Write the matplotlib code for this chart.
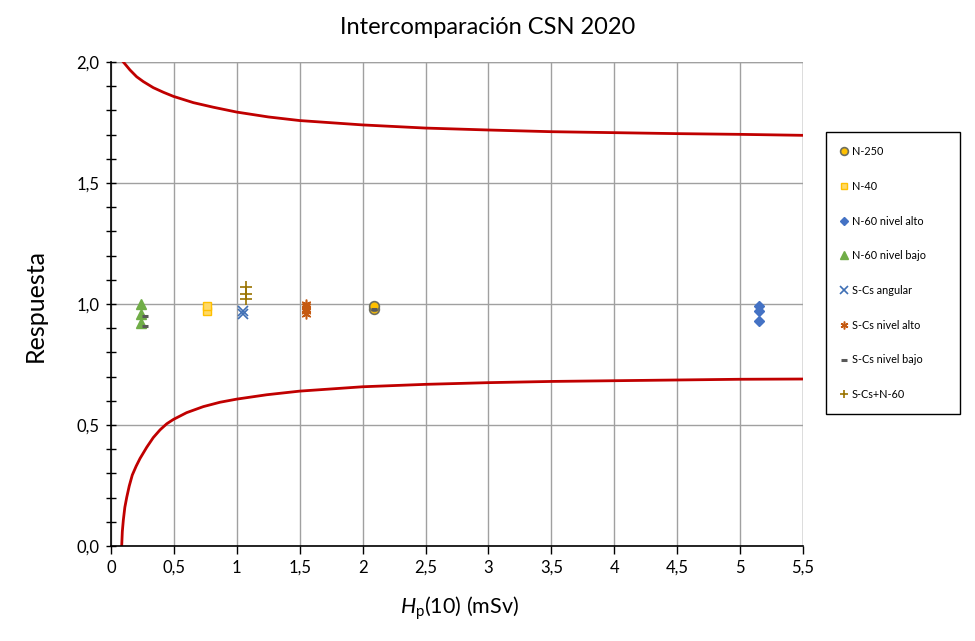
import matplotlib
matplotlib.use("Agg")
import matplotlib.pyplot as plt
from matplotlib.ticker import MultipleLocator

plt.rcParams['font.family'] = ['Lato', 'DejaVu Sans']
plt.rcParams['mathtext.fontset'] = 'custom'
plt.rcParams['mathtext.rm'] = 'Lato'
plt.rcParams['mathtext.it'] = 'Lato:italic'

# Upper and lower limit curves
upper_x = [0.098, 0.151, 0.204, 0.257, 0.336, 0.416, 0.496, 0.655, 0.814, 1.0, 1.25, 1.5, 2.0, 2.5, 3.0, 3.5, 4.0, 4.5, 5.0, 5.5]
upper_y = [2.000, 1.967, 1.939, 1.919, 1.894, 1.875, 1.858, 1.832, 1.813, 1.793, 1.773, 1.758, 1.740, 1.727, 1.719, 1.712, 1.708, 1.704, 1.701, 1.697]
lower_x = [0.085, 0.090, 0.098, 0.110, 0.125, 0.145, 0.169, 0.200, 0.231, 0.284, 0.336, 0.390, 0.443, 0.496, 0.601, 0.734, 0.866, 1.0, 1.238, 1.5, 2.0, 2.5, 3.0, 3.5, 4.0, 4.5, 5.0, 5.5]
lower_y = [0.000, 0.060, 0.107, 0.160, 0.201, 0.248, 0.293, 0.330, 0.362, 0.408, 0.448, 0.480, 0.505, 0.523, 0.551, 0.576, 0.594, 0.607, 0.625, 0.640, 0.658, 0.668, 0.675, 0.680, 0.683, 0.686, 0.689, 0.690]

# Series
n250_x = [2.09, 2.09]
n250_y = [0.98, 0.99]
n40_x = [0.76, 0.76]
n40_y = [0.97, 0.99]
n60alto_x = [5.15, 5.15, 5.15]
n60alto_y = [0.99, 0.97, 0.93]
n60bajo_x = [0.24, 0.24, 0.24]
n60bajo_y = [1.00, 0.96, 0.92]
scs_ang_x = [1.05, 1.05]
scs_ang_y = [0.96, 0.97]
scs_alto_x = [1.55, 1.55, 1.55, 1.55, 1.55]
scs_alto_y = [1.00, 0.99, 0.98, 0.97, 0.96]
scs_bajo_x = [0.27, 0.27, 2.09]
scs_bajo_y = [0.950, 0.910, 0.978]
scs_n60_x = [1.07, 1.07, 1.07]
scs_n60_y = [1.07, 1.04, 1.02]

x_ticks = [0, 0.5, 1, 1.5, 2, 2.5, 3, 3.5, 4, 4.5, 5, 5.5]
x_labels = ['0', '0,5', '1', '1,5', '2', '2,5', '3', '3,5', '4', '4,5', '5', '5,5']
y_ticks = [0.0, 0.5, 1.0, 1.5, 2.0]
y_labels = ['0,0', '0,5', '1,0', '1,5', '2,0']

fig = plt.figure(figsize=(9.75, 6.41), dpi=100)
ax = fig.add_axes([111/975, 1-546/641, (803-111)/975, (546-62)/641])

ax.plot(upper_x, upper_y, color='#C00000', lw=2, zorder=3, solid_joinstyle='round')
ax.plot(lower_x, lower_y, color='#C00000', lw=2, zorder=3, solid_joinstyle='round')

ax.plot(n250_x, n250_y, 'o', ms=7, mfc='#FFC000', mec='#6F6F5F', mew=1.2, ls='none', label='N-250', zorder=4)
ax.plot(n40_x, n40_y, 's', ms=6, mfc='#FFD966', mec='#FFC000', mew=1, ls='none', label='N-40', zorder=4)
ax.plot(n60alto_x, n60alto_y, 'D', ms=5, mfc='#4472C4', mec='#4472C4', ls='none', label='N-60 nivel alto', zorder=4)
ax.plot(n60bajo_x, n60bajo_y, '^', ms=6.5, mfc='#70AD47', mec='#70AD47', ls='none', label='N-60 nivel bajo', zorder=4)
ax.plot(scs_ang_x, scs_ang_y, 'x', ms=6.5, mec='#3F6FB5', mew=1.2, ls='none', label='S-Cs angular', zorder=4)
ax.plot(scs_alto_x, scs_alto_y, marker=(6, 2, 0), ms=7, mec='#C55A11', mew=1.1, ls='none', label='S-Cs nivel alto', zorder=4)
ax.plot(scs_bajo_x, scs_bajo_y, '_', ms=5, mec='#595959', mew=2.2, ls='none', label='S-Cs nivel bajo', zorder=4)
ax.plot(scs_n60_x, scs_n60_y, '+', ms=8, mec='#997300', mew=1.2, ls='none', label='S-Cs+N-60', zorder=4)

ax.set_xlim(0, 5.5)
ax.set_ylim(0, 2.0)
ax.set_xticks(x_ticks)
ax.set_xticklabels(x_labels)
ax.set_yticks(y_ticks)
ax.set_yticklabels(y_labels)
ax.yaxis.set_minor_locator(MultipleLocator(0.1))
ax.tick_params(axis='y', which='both', direction='inout', length=7, width=1, labelsize=12, pad=5)
ax.tick_params(axis='x', which='major', direction='out', length=6, width=1, labelsize=12, pad=4)
ax.grid(True, which='major', color='#A0A0A0', lw=1)
ax.set_axisbelow(True)
for s in ['top', 'right']:
    ax.spines[s].set_visible(False)
for s in ['left', 'bottom']:
    ax.spines[s].set_color('black')
    ax.spines[s].set_linewidth(1.2)
    ax.spines[s].set_zorder(5)
ax.axhline(2.0, color='#A0A0A0', lw=1, zorder=0.5)
ax.axvline(5.5, color='#A0A0A0', lw=1, zorder=0.5)

fig.text(0.5, 1-27/641, 'Intercomparación CSN 2020', ha='center', va='center', fontsize=17)
fig.text(35/975, 1-305/641, 'Respuesta', rotation=90, ha='center', va='center', fontsize=18)
fig.text(460/975, 1-608/641, r'$\mathit{H}_{\mathrm{p}}$(10) (mSv)', ha='center', va='center', fontsize=15.5)

leg = ax.legend(loc='upper left', bbox_to_anchor=(826/975, 1-132/641, 134/975, 0.0),
                bbox_transform=fig.transFigure, mode='expand',
                fontsize=7.8, labelspacing=2.19, borderpad=1.3, handlelength=0.8,
                handletextpad=0.3, borderaxespad=0, frameon=True, fancybox=False,
                edgecolor='black', framealpha=1, markerscale=0.8)
leg.get_frame().set_linewidth(1.0)

fig.savefig('out.png', dpi=100)
